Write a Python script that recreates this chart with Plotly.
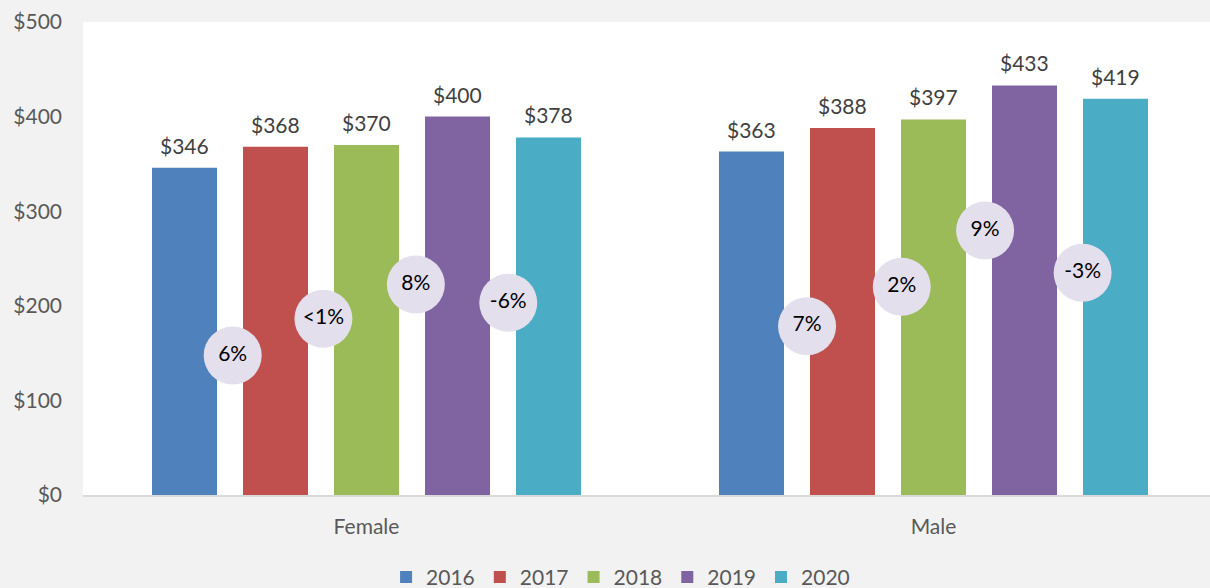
import plotly.graph_objects as go

categories = ["Female", "Male"]
years = ["2016", "2017", "2018", "2019", "2020"]
values = {
    "2016": [346, 363],
    "2017": [368, 388],
    "2018": [370, 397],
    "2019": [400, 433],
    "2020": [378, 419],
}
colors = ["#4F81BD", "#C0504D", "#9BBB59", "#8064A2", "#4BACC6"]

change_labels = ["6%", "<1%", "8%", "-6%", "7%", "2%", "9%", "-3%"]
change_cat = [0, 0, 0, 0, 1, 1, 1, 1]
change_offset = [-0.236, -0.076, 0.087, 0.250, -0.223, -0.056, 0.091, 0.263]
change_y = [147.5, 186.3, 222.5, 203.2, 178.4, 220.1, 279.6, 234.9]

FONT = "Lato"
xs = list(range(len(categories)))
slot = 91 / 567
bar_w = 65 / 567

fig = go.Figure()
for i, (yr, col) in enumerate(zip(years, colors)):
    off = (i - 2) * slot
    bx = [c + off for c in xs]
    fig.add_trace(go.Bar(
        x=bx, y=values[yr], name=yr, width=bar_w,
        marker=dict(color=col, line=dict(width=0)),
    ))
    for x, v in zip(bx, values[yr]):
        fig.add_annotation(
            x=x, y=v, text=f"${v}", showarrow=False,
            yanchor="bottom", yshift=8,
            font=dict(family=FONT, size=21, color="#404040"),
        )

fig.add_trace(go.Scatter(
    x=[c + o for c, o in zip(change_cat, change_offset)],
    y=change_y,
    mode="markers+text",
    text=change_labels,
    textposition="middle center",
    textfont=dict(family=FONT, size=21, color="#000000"),
    marker=dict(size=58, color="#E4DFEC", line=dict(width=0)),
    showlegend=False,
    cliponaxis=False,
    hoverinfo="skip",
))

fig.update_layout(
    width=1210, height=588,
    margin=dict(l=83, r=0, t=22, b=93, autoexpand=False),
    paper_bgcolor="#F2F2F2",
    plot_bgcolor="#FFFFFF",
    barmode="overlay",
    font=dict(family=FONT, size=21, color="#595959"),
    legend=dict(
        orientation="h", x=0.477, xanchor="center", y=-0.174, yanchor="middle",
        font=dict(family=FONT, size=21, color="#595959"),
        itemwidth=30, bgcolor="rgba(0,0,0,0)",
    ),
    xaxis=dict(
        range=[-0.5, -0.5 + 1127 / 567],
        tickvals=xs, ticktext=categories,
        showgrid=False, zeroline=False,
        showline=True, linecolor="#D9D9D9", linewidth=2,
        ticks="", ticklabelstandoff=12,
        tickfont=dict(family=FONT, size=21, color="#595959"),
    ),
    yaxis=dict(
        range=[0, 500], dtick=100,
        tickprefix="$",
        showgrid=False, zeroline=False, showline=False,
        ticks="", ticklabelstandoff=20,
        tickfont=dict(family=FONT, size=21, color="#595959"),
    ),
)

fig.write_html(
    "out.html",
    config={"displayModeBar": False},
    post_script="document.body.style.margin='0';document.body.style.background='#F2F2F2';",
)
